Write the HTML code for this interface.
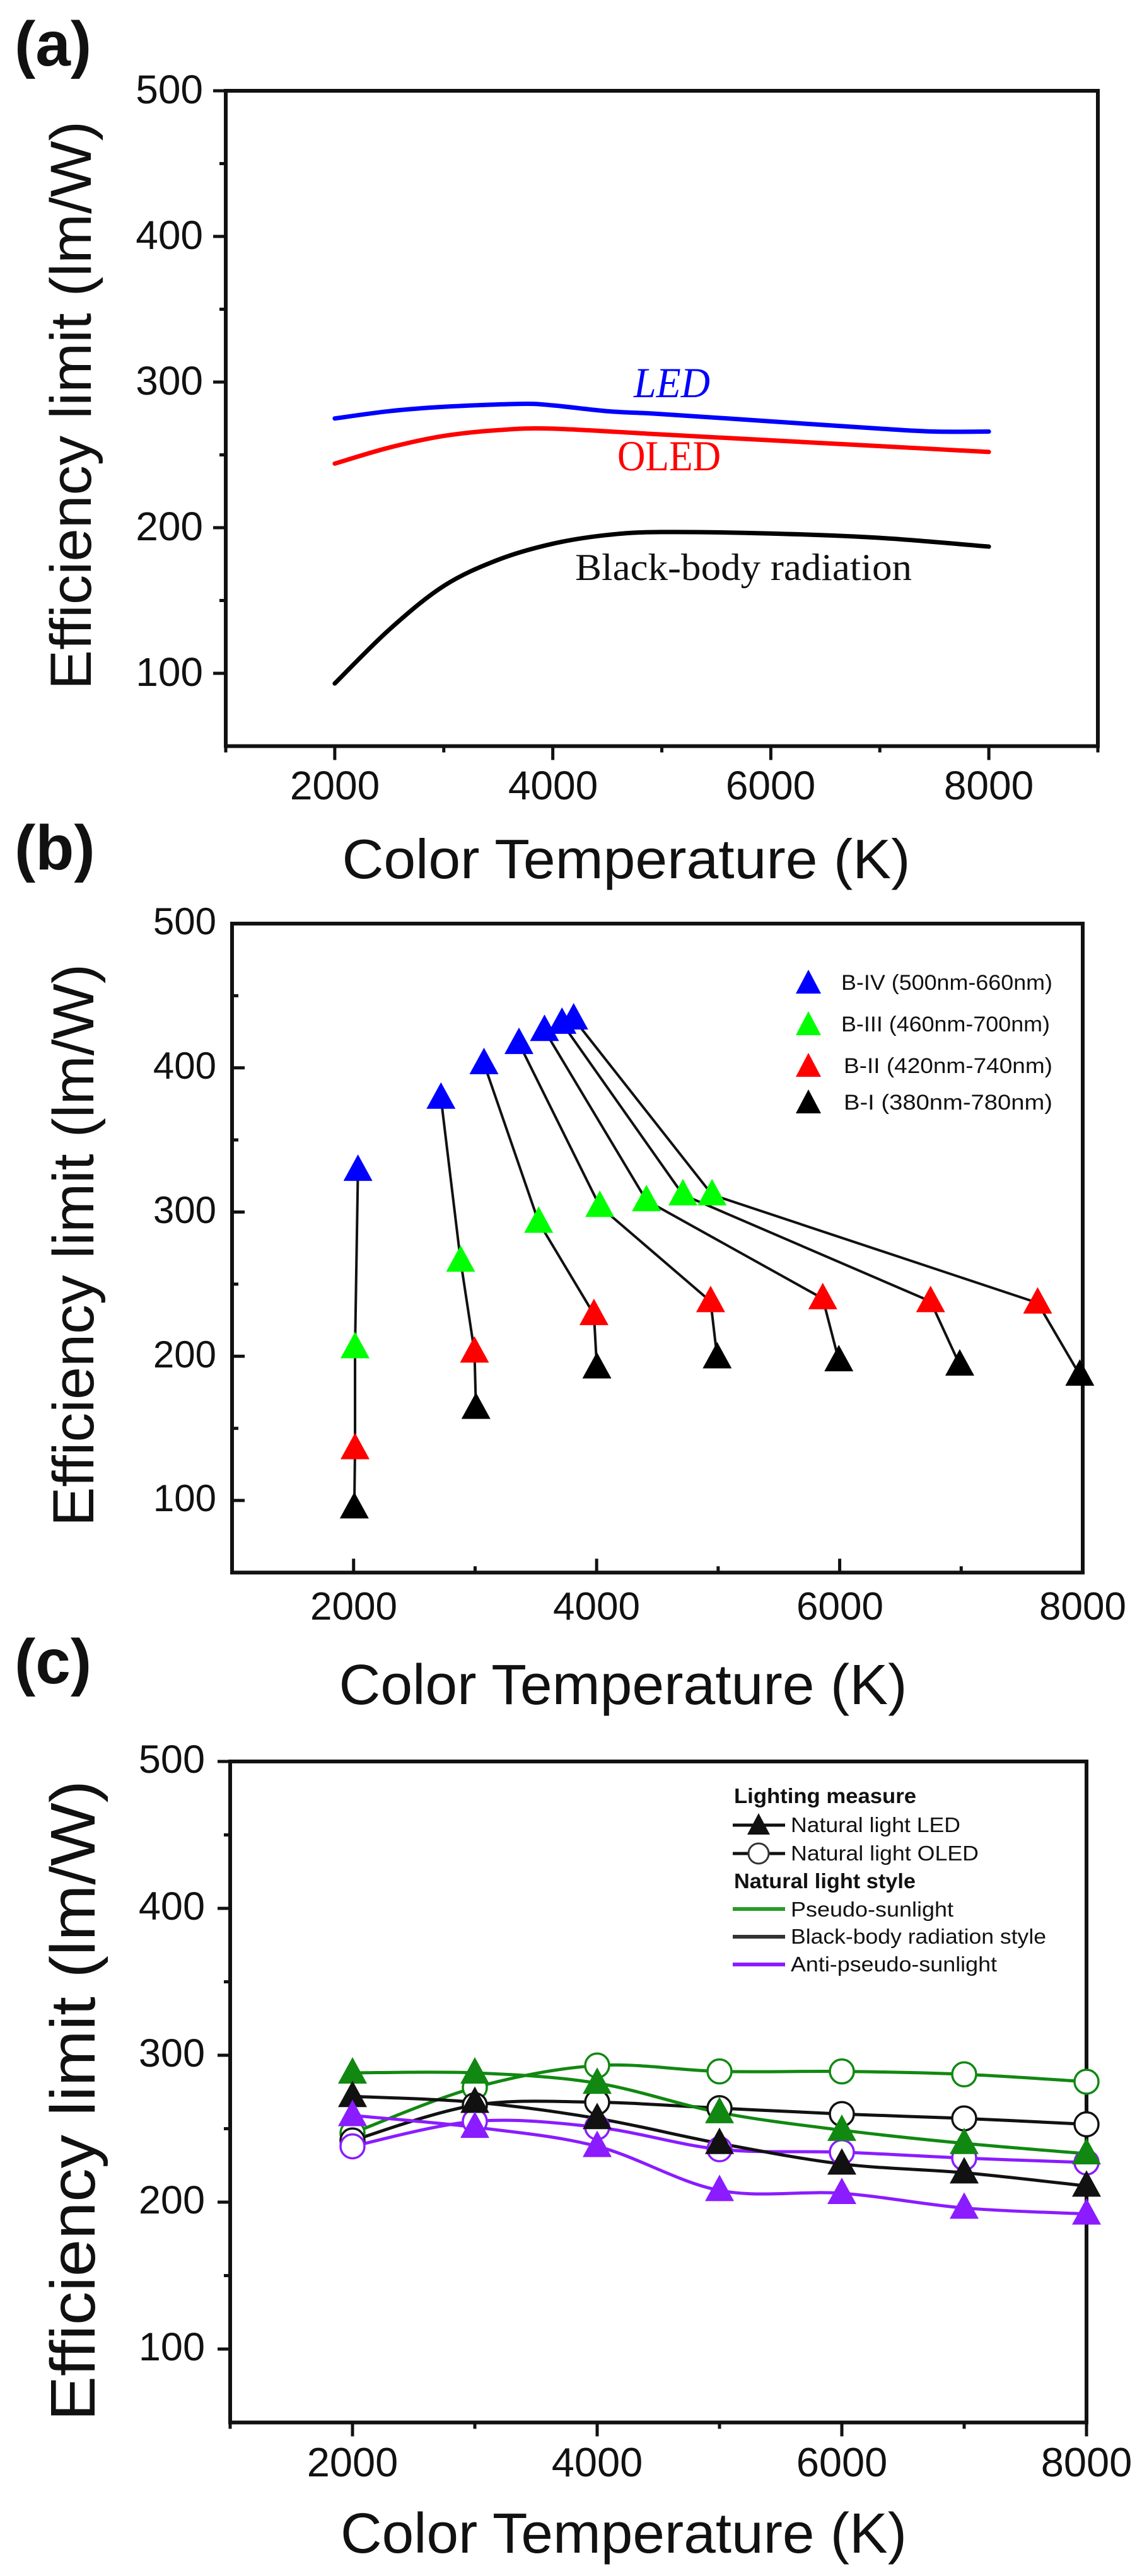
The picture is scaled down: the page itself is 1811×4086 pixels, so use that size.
<!DOCTYPE html>
<html><head><meta charset="utf-8"><style>
html,body{margin:0;padding:0;background:#fff;}
svg{display:block;}
text{font-family:"Liberation Sans",sans-serif;fill:#111;}
text.serif{font-family:"Liberation Serif",serif;}
</style></head><body>
<svg id="s" width="1811" height="4086" viewBox="0 0 1811 4086" xmlns="http://www.w3.org/2000/svg">
<rect width="1811" height="4086" fill="#fff"/>
<g id="g"></g>
<text x="23" y="104" font-size="100" font-weight="bold" fill="#000">(a)</text>
<text x="23" y="1379" font-size="100" font-weight="bold" fill="#000">(b)</text>
<text x="23" y="2670" font-size="100" font-weight="bold" fill="#000">(c)</text>

<g font-size="64" text-anchor="end">
<text x="322" y="164">500</text><text x="322" y="395">400</text><text x="322" y="626">300</text><text x="322" y="857">200</text><text x="322" y="1088">100</text>
</g>
<g font-size="64" text-anchor="middle">
<text x="531" y="1268">2000</text><text x="877" y="1268">4000</text><text x="1222" y="1268">6000</text><text x="1568" y="1268">8000</text>
</g>
<text x="993" y="1393" font-size="88" text-anchor="middle" textLength="901" lengthAdjust="spacingAndGlyphs">Color Temperature (K)</text>
<text transform="translate(144,643) rotate(-90)" font-size="92" text-anchor="middle" textLength="902" lengthAdjust="spacingAndGlyphs">Efficiency limit (lm/W)</text>
<text class="serif" x="1005" y="630" font-style="italic" font-size="68" style="fill:#0000ff" textLength="121" lengthAdjust="spacingAndGlyphs">LED</text>
<text class="serif" x="979" y="746" font-size="68" style="fill:#ff0000" textLength="164" lengthAdjust="spacingAndGlyphs">OLED</text>
<text class="serif" x="912" y="920" font-size="60" style="fill:#111" textLength="534" lengthAdjust="spacingAndGlyphs">Black-body radiation</text>

<g font-size="60" text-anchor="end">
<text x="343" y="1482">500</text><text x="343" y="1711">400</text><text x="343" y="1940">300</text><text x="343" y="2169">200</text><text x="343" y="2397">100</text>
</g>
<g font-size="62" text-anchor="middle">
<text x="561" y="2569">2000</text><text x="946" y="2569">4000</text><text x="1332" y="2569">6000</text><text x="1717" y="2569">8000</text>
</g>
<text x="988" y="2703" font-size="90" text-anchor="middle" textLength="901" lengthAdjust="spacingAndGlyphs">Color Temperature (K)</text>
<text transform="translate(148,1975) rotate(-90)" font-size="92" text-anchor="middle" textLength="892" lengthAdjust="spacingAndGlyphs">Efficiency limit (lm/W)</text>
<g font-size="34" style="fill:#333">
<text x="1334" y="1570" textLength="335" lengthAdjust="spacingAndGlyphs">B-IV (500nm-660nm)</text>
<text x="1334" y="1636" textLength="331" lengthAdjust="spacingAndGlyphs">B-III (460nm-700nm)</text>
<text x="1338" y="1702" textLength="331" lengthAdjust="spacingAndGlyphs">B-II  (420nm-740nm)</text>
<text x="1338" y="1760" textLength="331" lengthAdjust="spacingAndGlyphs">B-I   (380nm-780nm)</text>
</g>

<g font-size="63" text-anchor="end">
<text x="325" y="2812">500</text><text x="325" y="3045">400</text><text x="325" y="3278">300</text><text x="325" y="3511">200</text><text x="325" y="3744">100</text>
</g>
<g font-size="65" text-anchor="middle">
<text x="559" y="3928">2000</text><text x="947" y="3928">4000</text><text x="1335" y="3928">6000</text><text x="1723" y="3928">8000</text>
</g>
<text x="989" y="4049" font-size="90" text-anchor="middle" textLength="898" lengthAdjust="spacingAndGlyphs">Color Temperature (K)</text>
<text transform="translate(150,3332) rotate(-90)" font-size="100" text-anchor="middle" textLength="1016" lengthAdjust="spacingAndGlyphs">Efficiency limit (lm/W)</text>
<g font-size="33" style="fill:#333">
<text x="1164" y="2860" font-weight="bold" textLength="289" lengthAdjust="spacingAndGlyphs">Lighting measure</text>
<text x="1254" y="2906" textLength="269" lengthAdjust="spacingAndGlyphs">Natural light LED</text>
<text x="1254" y="2951" textLength="298" lengthAdjust="spacingAndGlyphs">Natural light OLED</text>
<text x="1164" y="2995" font-weight="bold" textLength="288" lengthAdjust="spacingAndGlyphs">Natural light style</text>
<text x="1254" y="3040" textLength="258" lengthAdjust="spacingAndGlyphs">Pseudo-sunlight</text>
<text x="1254" y="3083" textLength="405" lengthAdjust="spacingAndGlyphs">Black-body radiation style</text>
<text x="1254" y="3127" textLength="327" lengthAdjust="spacingAndGlyphs">Anti-pseudo-sunlight</text>
</g>
</svg>
<script>
var NS="http://www.w3.org/2000/svg",G=document.getElementById("g");
function el(t,a){var e=document.createElementNS(NS,t);for(var k in a)e.setAttribute(k,a[k]);G.appendChild(e);return e;}
function P(x0,x1,v0,v1,top,per){return{X:function(v){return x0+(v-v0)*(x1-x0)/(v1-v0)},Y:function(v){return top+(500-v)*per}};}
var A=P(358,1741,1000,9000,144,2.31),B=P(368,1717,1000,8000,1465,2.2875),C=P(365,1723,1000,8000,2794,2.33);
function smooth(pts){var d="M"+pts[0][0]+","+pts[0][1];for(var i=0;i<pts.length-1;i++){var p0=pts[i-1]||pts[i],p1=pts[i],p2=pts[i+1],p3=pts[i+2]||p2;
d+=" C"+(p1[0]+(p2[0]-p0[0])/6)+","+(p1[1]+(p2[1]-p0[1])/6)+" "+(p2[0]-(p3[0]-p1[0])/6)+","+(p2[1]-(p3[1]-p1[1])/6)+" "+p2[0]+","+p2[1];}return d;}
function tri(x,y,c,w,h){w=w||46;h=h||42;el("polygon",{points:(x-w/2)+","+(y+h/2)+" "+x+","+(y-h/2)+" "+(x+w/2)+","+(y+h/2),fill:c});}
function frame(M,x0,x1,out){
 el("rect",{x:M.X(x0),y:M.Y(500),width:M.X(x1)-M.X(x0),height:M.Y(50)-M.Y(500),fill:"none",stroke:"#111","stroke-width":6});
 var s=out?-1:1;
 for(var v=100;v<=500;v+=50){var maj=v%100==0;var L=maj?20:10;el("line",{x1:M.X(x0),x2:M.X(x0)+s*L,y1:M.Y(v),y2:M.Y(v),stroke:"#111","stroke-width":5});}
 for(var v=x0;v<=x1;v+=1000){var maj=v%2000==0;var L=maj?22:10;el("line",{x1:M.X(v),x2:M.X(v),y1:M.Y(50),y2:M.Y(50)-s*L,stroke:"#111","stroke-width":5});}
}
frame(A,1000,9000,true);
frame(B,1000,8000,false);
frame(C,1000,8000,true);
function curve(M,data,col,w){var pts=data.map(function(p){return[M.X(p[0]),M.Y(p[1])]});el("path",{d:smooth(pts),fill:"none",stroke:col,"stroke-width":w,"stroke-linecap":"round"});}
curve(A,[[2000,275],[2500,280],[3000,283],[3700,285],[4000,284],[4500,280],[5000,278],[6000,273],[7000,268],[7500,266],[8000,266]],"#0000ff",7);
curve(A,[[2000,244],[2500,255],[3000,263],[3500,267],[4000,268],[5000,264],[6000,260],[7000,256],[8000,252]],"#ff0000",7);
curve(A,[[2000,93],[2500,130],[3000,160],[3500,178],[4000,189],[4500,195],[5000,197],[6000,196],[7000,193],[8000,187]],"#000",7);
var blue=[[2036,329],[2719,379],[3073,403],[3361,417],[3571,426],[3715,431],[3811,434]];
var green=[[2012,206],[2881,266],[3523,293],[4026,304],[4410,308],[4710,312],[4950,312]];
var red=[[2012,136],[2995,203],[3978,229],[4938,238],[5861,240],[6748,238],[7629,237]];
var blk=[[2006,95],[3007,164],[4002,192],[4992,199],[5993,197],[6988,194],[7976,187]];
for(var i=0;i<7;i++){var pts=[blue[i],green[i],red[i],blk[i]].map(function(p){return B.X(p[0])+","+B.Y(p[1])}).join(" ");
 el("polyline",{points:pts,fill:"none",stroke:"#111","stroke-width":4});}
[[blue,"#0000ff"],[green,"#00ff00"],[red,"#ff0000"],[blk,"#000"]].forEach(function(s){s[0].forEach(function(p){tri(B.X(p[0]),B.Y(p[1])-4,s[1]);});});
tri(1282,1557,"#0000ff",40,38);tri(1282,1623,"#00ff00",40,38);tri(1282,1689,"#ff0000",40,38);tri(1282,1747,"#000",40,38);
var xs=[2000,3000,4000,5000,6000,7000,8000];
var GR="#118811",PU="#8a1cff";
var S=[
 {y:[247,278,293,289,289,287,282],c:GR,m:"o"},
 {y:[242,266,268,264,260,257,253],c:"#111",m:"o"},
 {y:[238,255,251,236,234,230,227],c:PU,m:"o"},
 {y:[288,288,281,261,249,240,233],c:GR,m:"t"},
 {y:[272,268,257,240,226,220,211],c:"#111",m:"t"},
 {y:[259,251,238,208,206,196,192],c:PU,m:"t"}];
S.forEach(function(s){curve(C,xs.map(function(x,i){return[x,s.y[i]]}),s.c,5);});
S.forEach(function(s){xs.forEach(function(x,i){var X=C.X(x),Y=C.Y(s.y[i]);
 if(s.m=="o")el("circle",{cx:X,cy:Y,r:19,fill:"#fff",stroke:s.c,"stroke-width":3.5});else tri(X,Y-4,s.c,46,42);});});
el("line",{x1:1162,x2:1245,y1:2895,y2:2895,stroke:"#111","stroke-width":5});tri(1203,2893,"#111",36,34);
el("line",{x1:1162,x2:1245,y1:2940,y2:2940,stroke:"#111","stroke-width":5});el("circle",{cx:1203,cy:2940,r:16,fill:"#fff",stroke:"#333","stroke-width":3});
el("line",{x1:1162,x2:1245,y1:3028,y2:3028,stroke:"#2a9a2a","stroke-width":6});
el("line",{x1:1162,x2:1245,y1:3072,y2:3072,stroke:"#333","stroke-width":6});
el("line",{x1:1162,x2:1245,y1:3116,y2:3116,stroke:PU,"stroke-width":6});
</script>
</body></html>
